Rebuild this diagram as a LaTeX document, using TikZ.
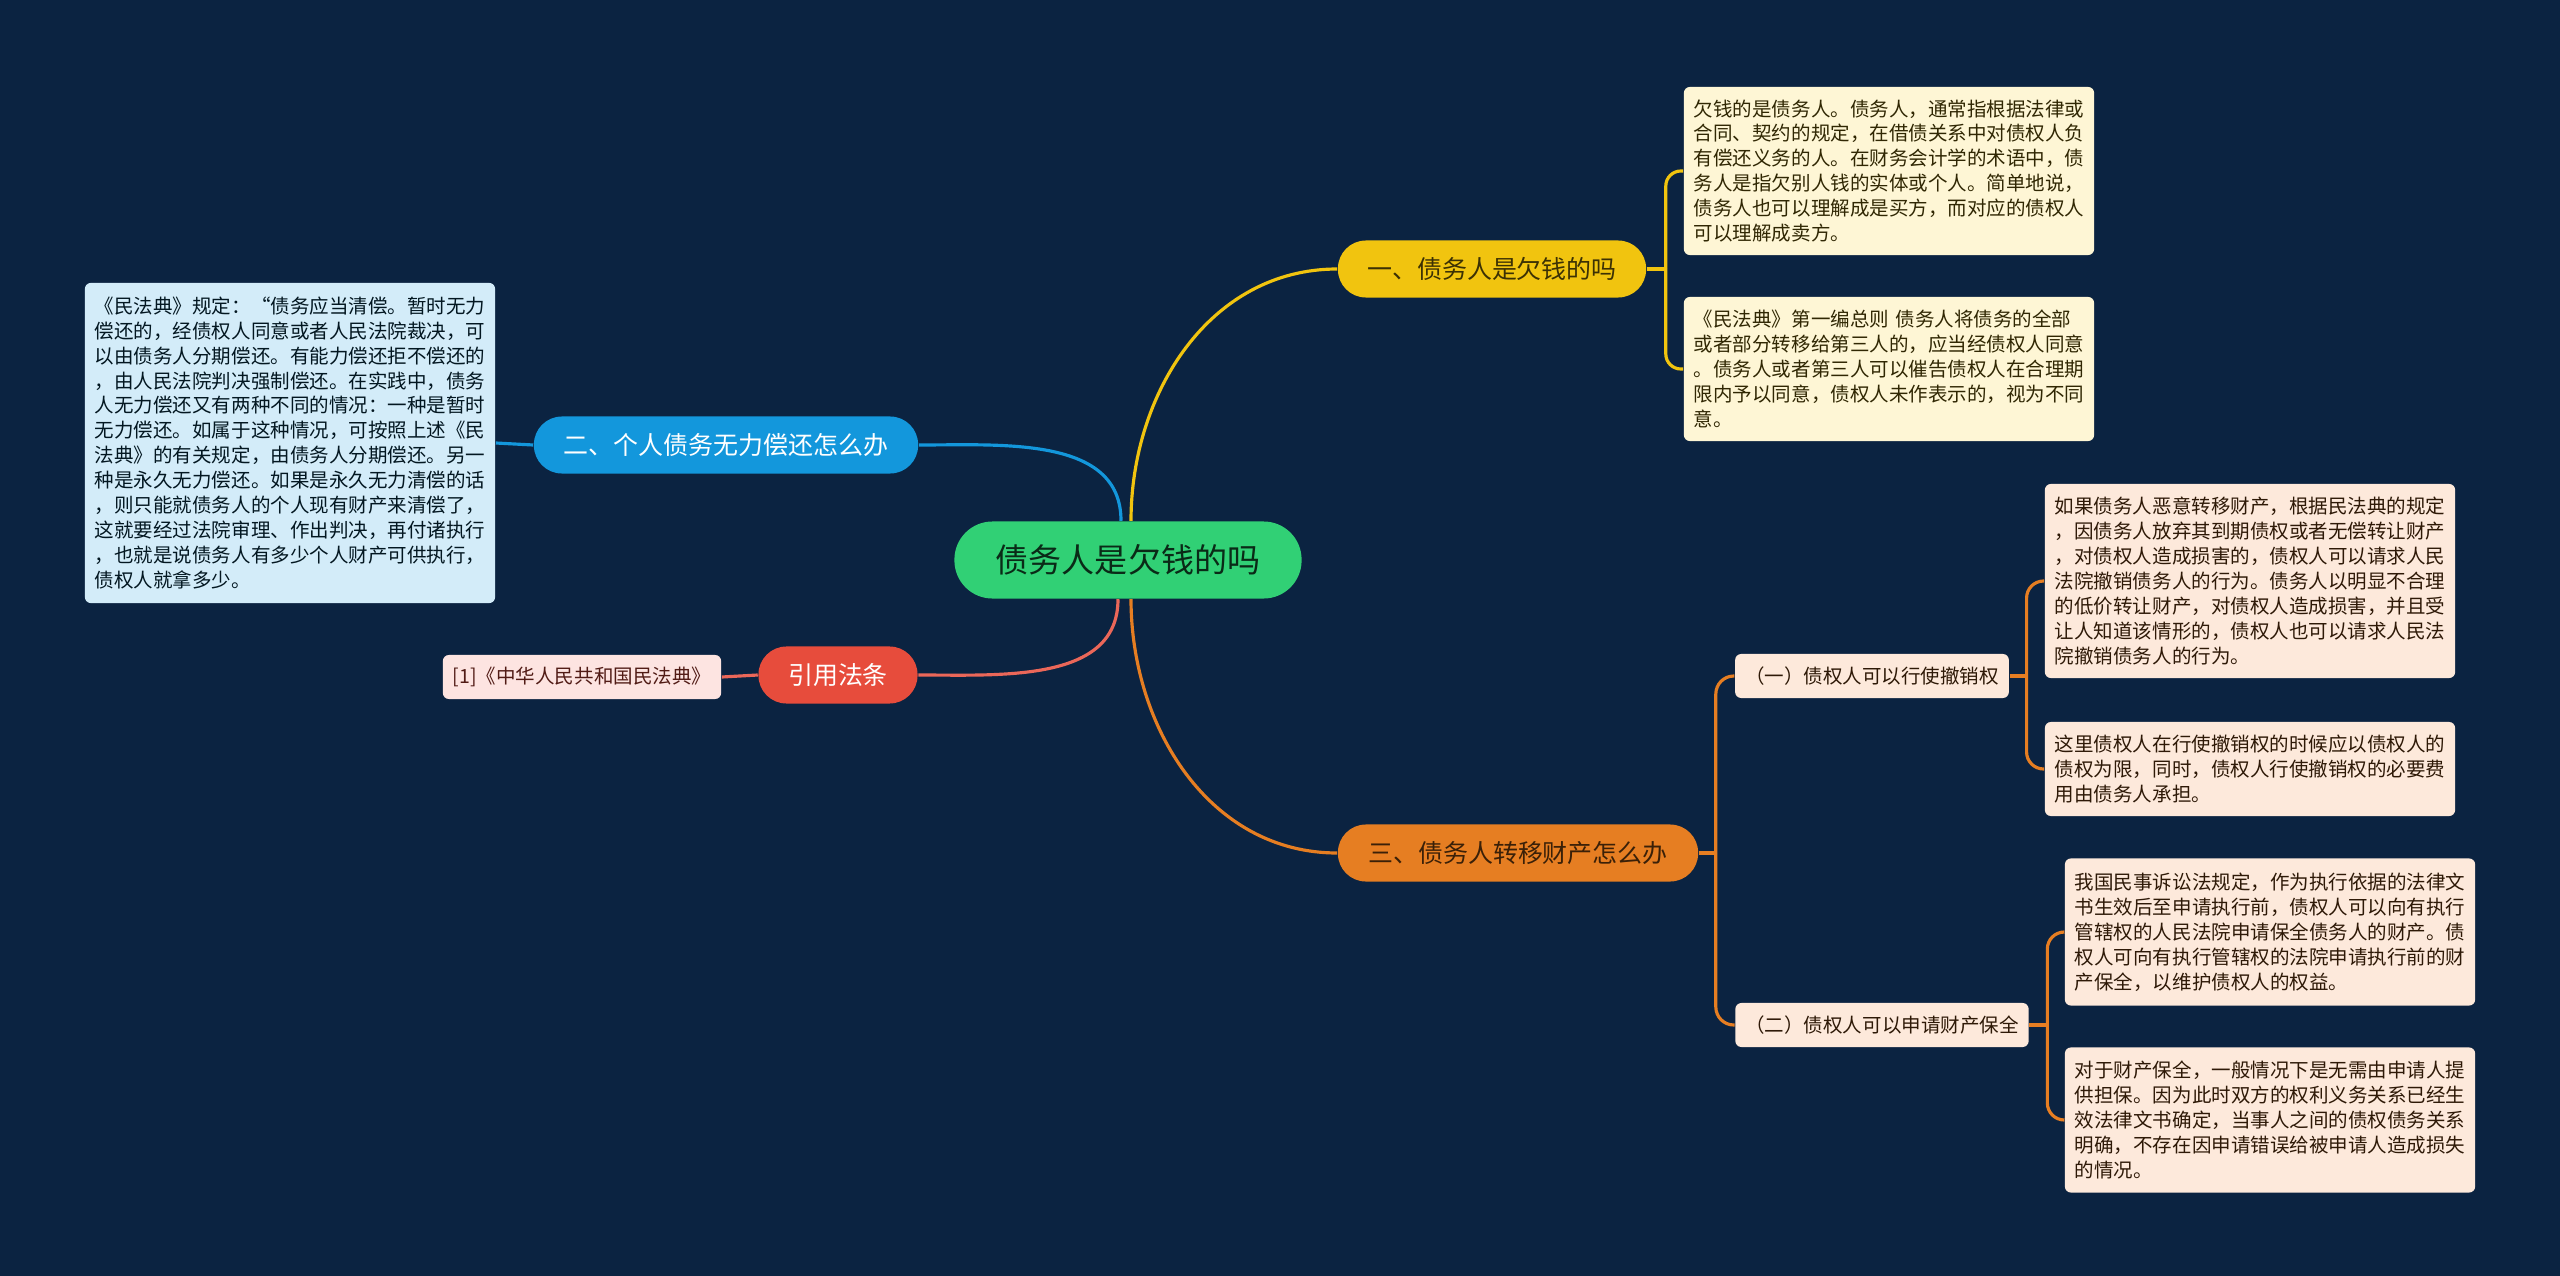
\documentclass[tikz,border=0pt]{standalone}
\usepackage{fontspec}
\newfontfamily\cjk{Noto Sans CJK SC}
\definecolor{bgc}{HTML}{0B2341}
\definecolor{rootc}{HTML}{31D075}
\definecolor{yelc}{HTML}{F1C40F}
\definecolor{bluc}{HTML}{1397DC}
\definecolor{redc}{HTML}{E74C3C}
\definecolor{orac}{HTML}{E67E22}
\definecolor{yelleaf}{HTML}{FEF6D5}
\definecolor{bluleaf}{HTML}{D3ECF9}
\definecolor{redleaf}{HTML}{FDE4E1}
\definecolor{oraleaf}{HTML}{FDE9DB}
\begin{document}
\begin{tikzpicture}[x=0.01cm, y=-0.01cm,
  root/.style={rounded corners=0.38cm, fill=rootc, text=rootc!20!black,
    minimum width=3.47cm, minimum height=0.77cm,
    font=\cjk\fontsize{9.4pt}{11pt}\selectfont},
  branch/.style={rounded corners=0.28cm, minimum height=0.57cm,
    font=\cjk\fontsize{7.1pt}{8.5pt}\selectfont},
  leaf/.style={rounded corners=0.06cm, align=left, text width=3.9cm,
    inner xsep=0.1cm, inner ysep=0.1cm,
    font=\cjk\fontsize{5.55pt}{7.1pt}\selectfont},
  tag/.style={rounded corners=0.06cm, minimum height=0.44cm, inner xsep=0.1cm,
    font=\cjk\fontsize{5.55pt}{7.1pt}\selectfont},
  link/.style={line width=0.9pt},
]
\fill[bgc] (0,0) rectangle (2560,1276);
\useasboundingbox (0,0) rectangle (2560,1276);

% centre and main branches
\node[root] (root) at (1128,560) {债务人是欠钱的吗};
\node[branch, fill=yelc, text=yelc!25!black, minimum width=3.08cm] (one) at (1492,269) {一、债务人是欠钱的吗};
\node[branch, fill=bluc, text=white, minimum width=3.84cm] (two) at (726,445) {二、个人债务无力偿还怎么办};
\node[branch, fill=redc, text=white, minimum width=1.59cm] (cite) at (838,675) {引用法条};
\node[branch, fill=orac, text=orac!25!black, minimum width=3.6cm] (three) at (1518,853) {三、债务人转移财产怎么办};

% leaves of branch one
\node[leaf, fill=yelleaf, text=yelc!20!black, minimum height=1.68cm] (onea) at (1889,171) {欠钱的是债务人。债务人，通常指根据法律或\\合同、契约的规定，在借债关系中对债权人负\\有偿还义务的人。在财务会计学的术语中，债\\务人是指欠别人钱的实体或个人。简单地说，\\债务人也可以理解成是买方，而对应的债权人\\可以理解成卖方。};
\node[leaf, fill=yelleaf, text=yelc!20!black, minimum height=1.44cm] (oneb) at (1889,369) {《民法典》第一编总则 债务人将债务的全部\\或者部分转移给第三人的，应当经债权人同意\\。债务人或者第三人可以催告债权人在合理期\\限内予以同意，债权人未作表示的，视为不同\\意。};

% leaf of branch two
\node[leaf, fill=bluleaf, text=bluc!15!black, minimum height=3.2cm] (twoa) at (290,443) {《民法典》规定：“债务应当清偿。暂时无力\\偿还的，经债权人同意或者人民法院裁决，可\\以由债务人分期偿还。有能力偿还拒不偿还的\\，由人民法院判决强制偿还。在实践中，债务\\人无力偿还又有两种不同的情况：一种是暂时\\无力偿还。如属于这种情况，可按照上述《民\\法典》的有关规定，由债务人分期偿还。另一\\种是永久无力偿还。如果是永久无力清偿的话\\，则只能就债务人的个人现有财产来清偿了，\\这就要经过法院审理、作出判决，再付诸执行\\，也就是说债务人有多少个人财产可供执行，\\债权人就拿多少。};

% citation
\node[tag, fill=redleaf, text=redc!35!black] (citea) at (582,677) {[1]《中华人民共和国民法典》};

% branch three
\node[tag, fill=oraleaf, text=orac!20!black] (subone) at (1872,676) {（一）债权人可以行使撤销权};
\node[tag, fill=oraleaf, text=orac!20!black] (subtwo) at (1882,1025) {（二）债权人可以申请财产保全};
\node[leaf, fill=oraleaf, text=orac!20!black, minimum height=1.94cm] (suba) at (2250,581) {如果债务人恶意转移财产，根据民法典的规定\\，因债务人放弃其到期债权或者无偿转让财产\\，对债权人造成损害的，债权人可以请求人民\\法院撤销债务人的行为。债务人以明显不合理\\的低价转让财产，对债权人造成损害，并且受\\让人知道该情形的，债权人也可以请求人民法\\院撤销债务人的行为。};
\node[leaf, fill=oraleaf, text=orac!20!black, minimum height=0.94cm] (subb) at (2250,769) {这里债权人在行使撤销权的时候应以债权人的\\债权为限，同时，债权人行使撤销权的必要费\\用由债务人承担。};
\node[leaf, fill=oraleaf, text=orac!20!black, minimum height=1.47cm] (subc) at (2270,932) {我国民事诉讼法规定，作为执行依据的法律文\\书生效后至申请执行前，债权人可以向有执行\\管辖权的人民法院申请保全债务人的财产。债\\权人可向有执行管辖权的法院申请执行前的财\\产保全，以维护债权人的权益。};
\node[leaf, fill=oraleaf, text=orac!20!black, minimum height=1.45cm] (subd) at (2270,1120) {对于财产保全，一般情况下是无需由申请人提\\供担保。因为此时双方的权利义务关系已经生\\效法律文书确定，当事人之间的债权债务关系\\明确，不存在因申请错误给被申请人造成损失\\的情况。};

% connectors from the centre
\draw[link, yelc] ([xshift=0.03cm]root.north) to[out=90, in=180] (one.west);
\draw[link, bluc] ([xshift=-0.07cm]root.north) to[out=90, in=0] (two.east);
\draw[link, redc!85!white] ([xshift=-0.1cm]root.south) to[out=-90, in=0] (cite.east);
\draw[link, orac] ([xshift=0.03cm]root.south) to[out=-90, in=180] (three.west);

% brackets
\draw[link, yelc] (one.east) -- ++(19,0) coordinate (jone);
\draw[link, yelc, rounded corners=0.15cm] (jone) |- (onea.west);
\draw[link, yelc, rounded corners=0.15cm] (jone) |- (oneb.west);
\draw[link, bluc] (two.west) -- (twoa.east);
\draw[link, redc!85!white] (cite.west) -- (citea.east);
\draw[link, orac] (three.east) -- ++(17,0) coordinate (jthree);
\draw[link, orac, rounded corners=0.18cm] (jthree) |- (subone.west);
\draw[link, orac, rounded corners=0.18cm] (jthree) |- (subtwo.west);
\draw[link, orac] (subone.east) -- ++(17,0) coordinate (jsubone);
\draw[link, orac, rounded corners=0.17cm] (jsubone) |- (suba.west);
\draw[link, orac, rounded corners=0.17cm] (jsubone) |- (subb.west);
\draw[link, orac] (subtwo.east) -- ++(18,0) coordinate (jsubtwo);
\draw[link, orac, rounded corners=0.17cm] (jsubtwo) |- (subc.west);
\draw[link, orac, rounded corners=0.17cm] (jsubtwo) |- (subd.west);
\end{tikzpicture}
\end{document}
